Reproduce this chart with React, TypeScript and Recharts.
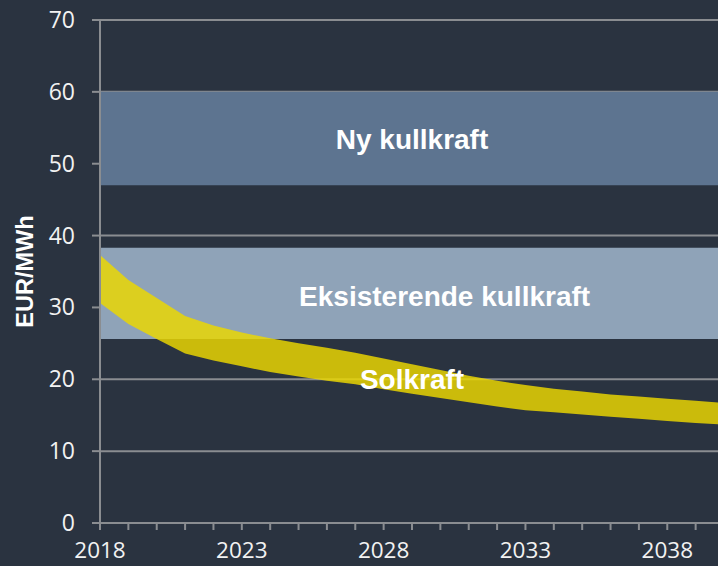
import React from 'react';
import { ComposedChart, Area, XAxis, YAxis, CartesianGrid, ReferenceArea, ReferenceDot } from 'recharts';

const years = [2018, 2019, 2020, 2021, 2022, 2023, 2024, 2025, 2026, 2027, 2028, 2029, 2030, 2031, 2032, 2033, 2034, 2035, 2036, 2037, 2038, 2039, 2040];
const solarHigh = [37.3, 33.8, 31.3, 28.8, 27.5, 26.5, 25.7, 25.0, 24.4, 23.7, 22.9, 22.1, 21.3, 20.5, 19.8, 19.2, 18.7, 18.3, 17.9, 17.6, 17.3, 17.0, 16.7];
const solarLow = [30.6, 27.7, 25.6, 23.6, 22.6, 21.8, 21.0, 20.4, 19.8, 19.3, 18.6, 18.0, 17.4, 16.8, 16.2, 15.7, 15.4, 15.1, 14.8, 14.5, 14.2, 13.9, 13.7];
const yTicks = [0, 10, 20, 30, 40, 50, 60, 70];
const newCoal = [47, 60];
const existingCoal = [25.6, 38.3];
const labels = { newCoal: 'Ny kullkraft', existingCoal: 'Eksisterende kullkraft', solar: 'Solkraft', yAxis: 'EUR/MWh' };
const existingLabelPos = { x: 2030.15, y: 31.6 };
const solarLabelPos = { x: 2029.0, y: 20.0 };

const data = years.map((year, i) => ({ year, solar: [solarLow[i], solarHigh[i]] }));

const GRID = '#8a8d91';
const TICK_FONT = '"Open Sans", sans-serif';
const BOLD_FONT = '"Liberation Sans", Arial, sans-serif';

const XTick = (props: any) => {
  const { x, y, payload } = props;
  const v = payload.value;
  if ((v - 2018) % 5 !== 0) return null;
  return (
    <text x={x} y={y} dy={26} textAnchor="middle" fill="#f2f2f2" fontFamily={TICK_FONT} fontSize={22.5}>
      {v}
    </text>
  );
};

const YTick = (props: any) => {
  const { x, y, payload } = props;
  return (
    <text x={x} y={y} dy={8} textAnchor="end" fill="#f2f2f2" fontFamily={TICK_FONT} fontSize={23}>
      {payload.value}
    </text>
  );
};

const boldLabel = (value: string, dx = 0, dy = 0) => ({
  value,
  position: 'center' as const,
  fill: '#ffffff',
  fontFamily: BOLD_FONT,
  fontWeight: 700,
  fontSize: 28,
  dx,
  dy,
});

export default function App() {
  return (
    <div style={{ position: 'absolute', left: 0, top: 0, width: 718, height: 566, overflow: 'hidden', background: '#2a3340' }}>
      <ComposedChart width={724} height={566} data={data} margin={{ top: 20, right: 0, left: 0, bottom: 0 }}>
        <CartesianGrid vertical={false} stroke={GRID} strokeWidth={2} />
        <XAxis
          dataKey="year"
          type="number"
          domain={[2018, 2040]}
          ticks={years}
          interval={0}
          tick={<XTick />}
          tickSize={7}
          tickMargin={2}
          tickLine={{ stroke: GRID, strokeWidth: 2 }}
          axisLine={{ stroke: GRID, strokeWidth: 2 }}
          height={43}
          allowDataOverflow
        />
        <YAxis
          type="number"
          domain={[0, 70]}
          ticks={yTicks}
          interval={0}
          width={100}
          tick={<YTick />}
          tickSize={8}
          tickMargin={17}
          tickLine={{ stroke: GRID, strokeWidth: 2 }}
          axisLine={{ stroke: GRID, strokeWidth: 2 }}
          label={{
            content: (p: any) => {
              const vb = p.viewBox;
              const cx = vb.x + 25;
              const cy = vb.y + vb.height / 2;
              return (
                <text
                  x={cx}
                  y={cy}
                  transform={`rotate(-90, ${cx}, ${cy})`}
                  textAnchor="middle"
                  dominantBaseline="central"
                  fill="#ffffff"
                  fontFamily={BOLD_FONT}
                  fontWeight={700}
                  fontSize={23.5}
                >
                  {labels.yAxis}
                </text>
              );
            },
          }}
        />
        <ReferenceArea y1={newCoal[0]} y2={newCoal[1]} x1={2018} x2={2040} fill="#5d7490" fillOpacity={1} stroke="none" label={boldLabel(labels.newCoal)} />
        <ReferenceArea y1={existingCoal[0]} y2={existingCoal[1]} x1={2018} x2={2040} fill="#8fa3b8" fillOpacity={1} stroke="none" />
        <Area type="linear" dataKey="solar" fill="#ecd700" fillOpacity={0.83} stroke="none" isAnimationActive={false} />
        <ReferenceDot x={existingLabelPos.x} y={existingLabelPos.y} r={0} fill="none" stroke="none" label={boldLabel(labels.existingCoal)} />
        <ReferenceDot x={solarLabelPos.x} y={solarLabelPos.y} r={0} fill="none" stroke="none" label={boldLabel(labels.solar)} />
      </ComposedChart>
    </div>
  );
}
